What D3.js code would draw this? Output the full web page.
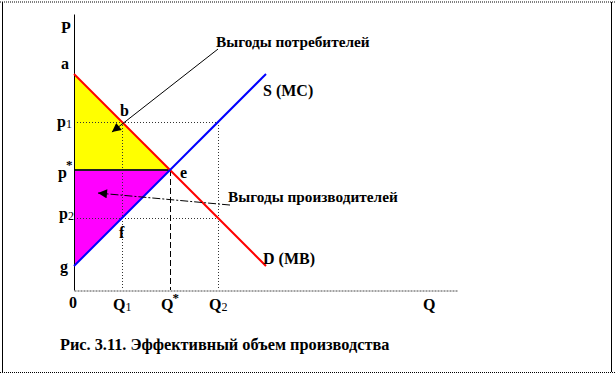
<!DOCTYPE html>
<html>
<head>
<meta charset="utf-8">
<script src="https://cdn.jsdelivr.net/npm/d3@7"></script>
<style>
  body { margin: 0; background: #fff; }
  text { font-family: "Liberation Serif", "Times New Roman", "DejaVu Serif", serif; font-weight: bold; fill: #000; }
</style>
</head>
<body>
<div id="chart"></div>
<script>
// curves: [Q, P]
const demand = [[0, 4.5], [4, 0.5]];
const supply = [[0, 0.5], [4, 4.5]];

// price levels on the P axis
const priceNames = ["a", "p", "p", "p", "g"];
const priceMarks = ["", "1", "*", "2", ""];
const priceValues = [4.5, 3.5, 2.5, 1.5, 0.5];

// quantity levels on the Q axis
const qNames = ["Q", "Q", "Q"];
const qMarks = ["1", "*", "2"];
const qValues = [1, 2, 3];

const pStar = 2.5, qStar = 2;
const p1 = 3.5, p2 = 1.5, q1 = 1, q2 = 3;

// annotation arrows [from, to] in data units
const consumerArrow = [[3, 5.02], [0.79, 3.29]];
const producerArrow = [[3.25, 1.77], [0.5, 2.02]];

const width = 615, height = 375;

const svg = d3.select("#chart").append("svg")
  .attr("width", width)
  .attr("height", height);

const x = d3.scaleLinear().domain([0, 8]).range([74, 458]);
const y = d3.scaleLinear().domain([0, 5.75]).range([290, 14]);

// frame
svg.append("line").attr("x1", 0).attr("x2", width).attr("y1", 2).attr("y2", 2)
  .attr("stroke", "#000").attr("stroke-dasharray", "1,1");
svg.append("line").attr("x1", 0).attr("x2", width).attr("y1", 372.5).attr("y2", 372.5)
  .attr("stroke", "#000").attr("stroke-dasharray", "1,1");
svg.append("line").attr("x1", 2.5).attr("x2", 2.5).attr("y1", 2).attr("y2", 372)
  .attr("stroke", "#000");
svg.append("line").attr("x1", 611.5).attr("x2", 611.5).attr("y1", 2).attr("y2", 372)
  .attr("stroke", "#000");

svg.append("defs").append("marker")
  .attr("id", "arrow")
  .attr("viewBox", "0 0 10 10")
  .attr("refX", 10).attr("refY", 5)
  .attr("markerWidth", 11).attr("markerHeight", 9)
  .attr("markerUnits", "userSpaceOnUse")
  .attr("orient", "auto")
  .append("path").attr("d", "M0,0L10,5L0,10z").attr("fill", "#000");

const area = d3.line().x(d => x(d[0])).y(d => y(d[1]));

// consumer surplus
svg.append("path")
  .attr("d", area([[0, demand[0][1]], [qStar, pStar], [0, pStar]]) + "Z")
  .attr("fill", "#ffff00");
// producer surplus
svg.append("path")
  .attr("d", area([[0, supply[0][1]], [qStar, pStar], [0, pStar]]) + "Z")
  .attr("fill", "#ff00ff");

// guides
const guide = (x1, y1, x2, y2, dash, col) => svg.append("line")
  .attr("x1", x1).attr("y1", y1).attr("x2", x2).attr("y2", y2)
  .attr("stroke", col || "#000").attr("stroke-width", 1)
  .attr("stroke-dasharray", dash);

guide(x(0), y(p1) + 0.5, x(q2), y(p1) + 0.5, "1,2", "#333");
guide(x(0), y(p2) + 0.5, x(q2), y(p2) + 0.5, "1,2", "#333");
guide(x(q1) + 0.5, y(p1), x(q1) + 0.5, y(0), "1,2", "#333");
guide(x(q2) + 0.5, y(p1), x(q2) + 0.5, y(0), "1,2", "#333");
guide(x(qStar) + 0.5, y(pStar), x(qStar) + 0.5, y(0), "6,3", "#000");

svg.append("line")
  .attr("x1", x(0)).attr("x2", x(qStar)).attr("y1", y(pStar)).attr("y2", y(pStar))
  .attr("stroke", "#222").attr("stroke-width", 2);

// axes
const yAxis = svg.append("g")
  .attr("transform", `translate(${x(0)},0)`)
  .call(d3.axisLeft(y).tickValues([]).tickSizeOuter(0));
yAxis.select(".domain").attr("stroke", "#000");

const xAxis = svg.append("g")
  .attr("transform", `translate(0,${y(0) + 0.5})`)
  .call(d3.axisBottom(x).tickValues([]).tickSizeOuter(0));
xAxis.select(".domain").attr("stroke", "#444").attr("stroke-dasharray", "2,1");

// curves
svg.append("path").attr("d", area(demand))
  .attr("fill", "none").attr("stroke", "#ff0000").attr("stroke-width", 2);
svg.append("path").attr("d", area(supply))
  .attr("fill", "none").attr("stroke", "#0000ff").attr("stroke-width", 2);

// price labels
const priceDy = [-5, 5, 8, 1, 6];
const priceDx = [-13, -17, -16, -15, -14];
priceValues.forEach((v, i) => {
  const t = svg.append("text")
    .attr("x", x(0) + priceDx[i]).attr("y", y(v) + priceDy[i])
    .attr("font-size", 16).text(priceNames[i]);
  if (priceMarks[i] === "*") {
    t.append("tspan").attr("dy", -9).attr("dx", -1).attr("font-size", 13).text("*");
  } else if (priceMarks[i]) {
    t.append("tspan").attr("dy", 1).attr("font-size", 12).attr("font-weight", "normal").text(priceMarks[i]);
  }
});

svg.append("text").attr("x", 61).attr("y", 33).attr("font-size", 16).text("P");
svg.append("text").attr("x", x(0) - 5).attr("y", 308).attr("font-size", 16).text("0");
svg.append("text").attr("x", 423).attr("y", 310).attr("font-size", 16).text("Q");

// quantity labels
qValues.forEach((v, i) => {
  const t = svg.append("text")
    .attr("x", x(v) - 9).attr("y", 310)
    .attr("font-size", 16).text(qNames[i]);
  if (qMarks[i] === "*") {
    t.append("tspan").attr("dy", -8).attr("dx", -1).attr("font-size", 13).text("*");
  } else {
    t.append("tspan").attr("dy", 1).attr("font-size", 12).attr("font-weight", "normal").text(qMarks[i]);
  }
});

// point labels
svg.append("text").attr("x", x(q1) - 2).attr("y", y(p1) - 6).attr("font-size", 16).text("b");
svg.append("text").attr("x", x(qStar) + 10).attr("y", y(pStar) + 8).attr("font-size", 16).text("e");
svg.append("text").attr("x", x(q1) - 3).attr("y", y(p2) + 20).attr("font-size", 16).text("f");

svg.append("text").attr("x", 263).attr("y", 96).attr("font-size", 16).text("S (MC)");
svg.append("text").attr("x", 263).attr("y", 264).attr("font-size", 16).text("D (MB)");

// annotations
svg.append("line")
  .attr("x1", x(consumerArrow[0][0])).attr("y1", y(consumerArrow[0][1]))
  .attr("x2", x(consumerArrow[1][0])).attr("y2", y(consumerArrow[1][1]))
  .attr("stroke", "#000").attr("stroke-width", 1)
  .attr("marker-end", "url(#arrow)");
svg.append("text").attr("x", 216).attr("y", 47).attr("font-size", 15.3).text("Выгоды потребителей");

svg.append("line")
  .attr("x1", x(producerArrow[0][0])).attr("y1", y(producerArrow[0][1]))
  .attr("x2", x(producerArrow[1][0])).attr("y2", y(producerArrow[1][1]))
  .attr("stroke", "#000").attr("stroke-width", 1)
  .attr("stroke-dasharray", "8,2,2,2")
  .attr("marker-end", "url(#arrow)");
svg.append("text").attr("x", 228).attr("y", 202).attr("font-size", 15.3).text("Выгоды производителей");

svg.append("text").attr("x", 60).attr("y", 350).attr("font-size", 16.3).text("Рис. 3.11. Эффективный объем производства");
</script>
</body>
</html>
